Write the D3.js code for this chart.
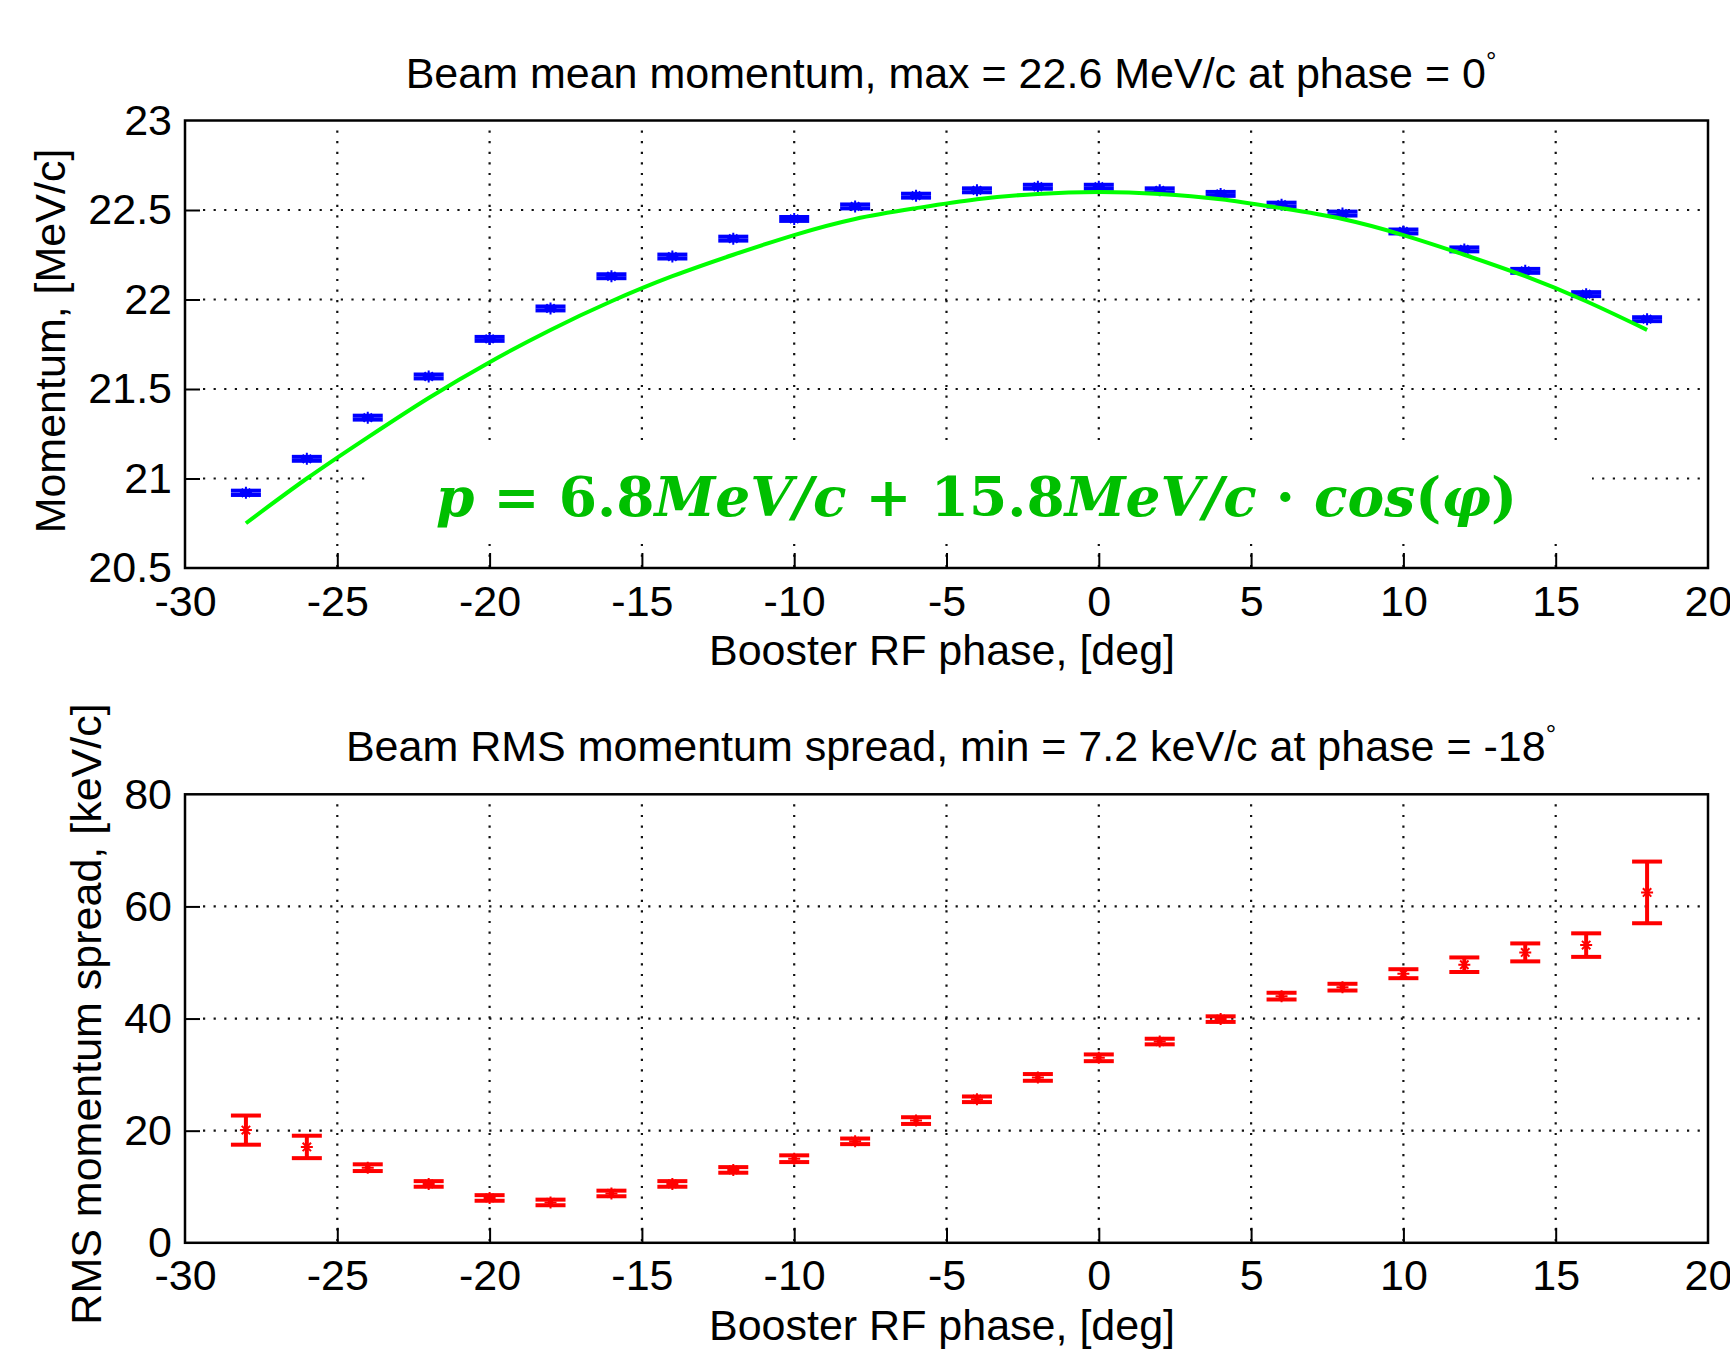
<!DOCTYPE html>
<html>
<head>
<meta charset="utf-8">
<script src="https://cdn.jsdelivr.net/npm/d3@7"></script>
<style>
  body { margin: 0; background: #fff; }
  svg { display: block; font-family: "Liberation Sans", Arial, sans-serif; }
</style>
</head>
<body>
<div id="chart"></div>
<script>
// booster RF phase, deg
const phases = [-28, -26, -24, -22, -20, -18, -16, -14, -12, -10, -8, -6, -4, -2, 0, 2, 4, 6, 8, 10, 12, 14, 16, 18];

// beam mean momentum, MeV/c
const meanMomentum = [20.92, 21.11, 21.34, 21.57, 21.78, 21.95, 22.13, 22.24, 22.34, 22.45, 22.52, 22.58,
                      22.61, 22.63, 22.63, 22.61, 22.59, 22.53, 22.48, 22.38, 22.28, 22.16, 22.03, 21.89];
const meanMomentumErr = [0.012, 0.011, 0.011, 0.011, 0.011, 0.011, 0.011, 0.011, 0.011, 0.011, 0.011, 0.011,
                         0.011, 0.011, 0.011, 0.011, 0.011, 0.011, 0.011, 0.011, 0.011, 0.011, 0.011, 0.011];
// fitted curve
const fitMomentum = [20.75, 21.00, 21.23, 21.45, 21.65, 21.83, 21.99, 22.13, 22.25, 22.36, 22.45, 22.51,
                     22.56, 22.59, 22.60, 22.59, 22.56, 22.51, 22.45, 22.36, 22.25, 22.13, 21.99, 21.83];

// beam RMS momentum spread, keV/c
const rmsSpread = [20.1, 17.1, 13.4, 10.5, 8.0, 7.2, 8.8, 10.5, 13.0, 15.0, 18.1, 21.8,
                   25.6, 29.5, 33.0, 35.9, 39.9, 44.0, 45.6, 48.0, 49.6, 51.8, 53.1, 62.5];
const rmsSpreadErr = [2.6, 2.0, 0.6, 0.5, 0.5, 0.5, 0.5, 0.5, 0.5, 0.6, 0.5, 0.6,
                      0.5, 0.6, 0.6, 0.5, 0.5, 0.6, 0.6, 0.8, 1.3, 1.6, 2.1, 5.5];

const xTicks = [-30, -25, -20, -15, -10, -5, 0, 5, 10, 15, 20];
const momentumTicks = [20.5, 21, 21.5, 22, 22.5, 23];
const spreadTicks = [0, 20, 40, 60, 80];

const W = 1730, H = 1351;
const FONT = 43;

const svg = d3.select("#chart").append("svg")
    .attr("width", W)
    .attr("height", H);

svg.append("rect").attr("width", W).attr("height", H).attr("fill", "#fff");

function starPath(cx, cy, r) {
    const d = r * 0.7;
    return `M${cx - r},${cy}H${cx + r}M${cx},${cy - r}V${cy + r}` +
           `M${cx - d},${cy - d}L${cx + d},${cy + d}M${cx - d},${cy + d}L${cx + d},${cy - d}`;
}

// axes box, dotted grid, ticks and labels; returns scales
function drawPanel(top, height, yDomain, yTicks, title, maskGrid) {
    const left = 185, right = 1708;
    const x = d3.scaleLinear().domain([-30, 20]).range([left, right]);
    const y = d3.scaleLinear().domain(yDomain).range([top + height, top]);

    const grid = svg.append("g")
        .attr("stroke", "#111")
        .attr("stroke-width", 2.2)
        .attr("stroke-dasharray", "2.2,8.4");

    grid.selectAll("line.v")
        .data(xTicks.slice(1, -1))
        .join("line")
        .attr("class", "v")
        .attr("x1", d => x(d)).attr("x2", d => x(d))
        .attr("y1", top + 10).attr("y2", top + height);

    grid.selectAll("line.h")
        .data(yTicks.slice(1, -1))
        .join("line")
        .attr("class", "h")
        .attr("y1", d => y(d)).attr("y2", d => y(d))
        .attr("x1", left + 18).attr("x2", right);

    if (maskGrid) maskGrid();

    const xAxis = svg.append("g")
        .attr("transform", `translate(0,${top + height})`)
        .call(d3.axisBottom(x).tickValues(xTicks).tickSize(-15).tickPadding(17).tickFormat(d => d));
    const yAxis = svg.append("g")
        .attr("transform", `translate(${left},0)`)
        .call(d3.axisLeft(y).tickValues(yTicks).tickSize(-15).tickPadding(13).tickFormat(d => d));

    [xAxis, yAxis].forEach(a => {
        a.select(".domain").remove();
        a.attr("font-size", FONT).attr("font-family", "Liberation Sans, Arial, sans-serif");
        a.selectAll(".tick line").attr("stroke", "#000").attr("stroke-width", 2);
        a.selectAll(".tick text").attr("fill", "#000");
    });
    // drop the end ticks on the box corners
    xAxis.selectAll(".tick line").filter(d => d === -30 || d === 20).remove();
    yAxis.selectAll(".tick line").filter(d => d === yDomain[0] || d === yDomain[1]).remove();

    svg.append("rect")
        .attr("x", left).attr("y", top)
        .attr("width", right - left).attr("height", height)
        .attr("fill", "none")
        .attr("stroke", "#000")
        .attr("stroke-width", 2.5);

    const t = svg.append("text")
        .attr("x", 951)
        .attr("y", top - 33)
        .attr("text-anchor", "middle")
        .attr("font-size", FONT)
        .text(title);
    t.append("tspan")
        .attr("font-size", 26)
        .attr("dy", -18)
        .text("°");

    svg.append("text")
        .attr("x", 942)
        .attr("y", top + height + 97)
        .attr("text-anchor", "middle")
        .attr("font-size", FONT)
        .text("Booster RF phase, [deg]");

    return { x, y };
}

function drawErrorBars(x, y, values, errs, color) {
    const g = svg.append("g")
        .attr("stroke", color)
        .attr("fill", "none");
    const pts = phases.map((p, i) => ({ p, v: values[i], e: errs[i] }));
    const cap = 15;

    g.selectAll("line.stem")
        .data(pts)
        .join("line")
        .attr("x1", d => x(d.p)).attr("x2", d => x(d.p))
        .attr("y1", d => y(d.v + d.e)).attr("y2", d => y(d.v - d.e))
        .attr("stroke-width", 4);

    g.selectAll("line.capTop")
        .data(pts)
        .join("line")
        .attr("x1", d => x(d.p) - cap).attr("x2", d => x(d.p) + cap)
        .attr("y1", d => y(d.v + d.e)).attr("y2", d => y(d.v + d.e))
        .attr("stroke-width", 4);

    g.selectAll("line.capBottom")
        .data(pts)
        .join("line")
        .attr("x1", d => x(d.p) - cap).attr("x2", d => x(d.p) + cap)
        .attr("y1", d => y(d.v - d.e)).attr("y2", d => y(d.v - d.e))
        .attr("stroke-width", 4);

    g.selectAll("path.star")
        .data(pts)
        .join("path")
        .attr("d", d => starPath(x(d.p), y(d.v), 6))
        .attr("stroke-width", 2);
}

function drawMomentumChart() {
    const top = 120.5, height = 447.5;
    const { x, y } = drawPanel(top, height, [20.5, 23], momentumTicks,
        "Beam mean momentum, max = 22.6 MeV/c at phase = 0",
        () => {
            // white box behind the formula hides the grid
            svg.append("rect")
                .attr("x", 369).attr("y", 444)
                .attr("width", 1223).attr("height", 99)
                .attr("fill", "#fff");
        });

    svg.append("text")
        .attr("transform", "translate(65,341) rotate(-90)")
        .attr("text-anchor", "middle")
        .attr("font-size", FONT)
        .text("Momentum, [MeV/c]");

    drawErrorBars(x, y, meanMomentum, meanMomentumErr, "#0000ff");

    const line = d3.line()
        .x((d, i) => x(phases[i]))
        .y(d => y(d))
        .curve(d3.curveNatural);

    svg.append("path")
        .datum(fitMomentum)
        .attr("d", line)
        .attr("fill", "none")
        .attr("stroke", "#00ff00")
        .attr("stroke-width", 4);

    // fit formula, stretched to the reference width with letter spacing
    const target = 1081;
    let fs = 60;
    const eq = svg.append("text")
        .attr("x", 436)
        .attr("y", 516)
        .attr("font-family", "DejaVu Serif, serif")
        .attr("font-size", fs)
        .attr("font-weight", "bold")
        .attr("fill", "#00bf00");
    const parts = [
        ["p", true], [" = ", false], ["6.8", false], ["MeV/c", true], [" + ", false],
        ["15.8", false], ["MeV/c", true], [" · ", false], ["cos", true], ["(", false],
        ["φ", true], [")", false]
    ];
    parts.forEach(([s, it]) => {
        eq.append("tspan")
            .attr("font-style", it ? "italic" : "normal")
            .text(s);
    });
    const nChars = parts.map(p => p[0]).join("").length;
    let natural = eq.node().getComputedTextLength();
    if (natural > target) {
        fs = fs * target / natural;
        eq.attr("font-size", fs);
    } else {
        eq.attr("letter-spacing", (target - natural) / (nChars - 1));
    }
}

function drawSpreadChart() {
    const top = 794.3, height = 448.5;
    const { x, y } = drawPanel(top, height, [0, 80], spreadTicks,
        "Beam RMS momentum spread, min = 7.2 keV/c at phase = -18");

    svg.append("text")
        .attr("transform", "translate(101,1014) rotate(-90)")
        .attr("text-anchor", "middle")
        .attr("font-size", FONT)
        .text("RMS momentum spread, [keV/c]");

    drawErrorBars(x, y, rmsSpread, rmsSpreadErr, "#ff0000");
}

drawMomentumChart();
drawSpreadChart();
</script>
</body>
</html>
